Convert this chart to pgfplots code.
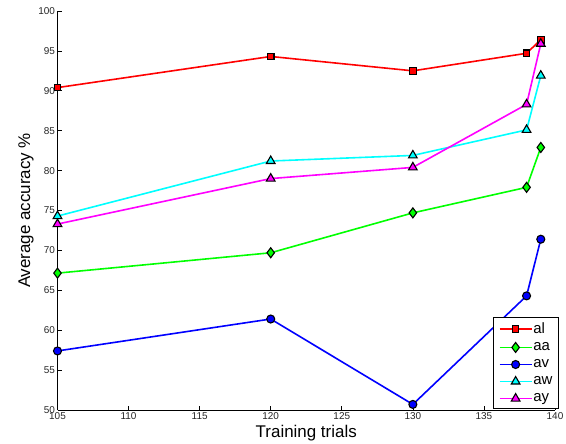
\documentclass[border=0pt]{standalone}
\usepackage{fontspec}
\setmainfont{Liberation Sans}
\usepackage{pgfplots}
\pgfplotsset{compat=1.18}
\definecolor{mred}{rgb}{1,0,0}
\definecolor{mgreen}{rgb}{0,1,0}
\definecolor{mblue}{rgb}{0,0,1}
\definecolor{mcyan}{rgb}{0,1,1}
\definecolor{mmag}{rgb}{1,0,1}
\begin{document}
\begin{tikzpicture}
\begin{axis}[
  scale only axis,
  width=497.5bp, height=399bp,
  xmin=105, xmax=140, ymin=50, ymax=100,
  xtick={105,110,...,140}, ytick={50,55,...,100},
  axis x line*=bottom, axis y line*=left,
  axis line style={black, line width=0.8pt, -},
  tick align=inside,
  major tick length=4bp,
  tick style={black, line width=0.6pt},
  /pgf/number format/assume math mode=true,
  tick label style={font=\fontsize{10}{11}\selectfont, text=black!85},
  xticklabel style={yshift=1bp},
  yticklabel style={xshift=1bp},
  xlabel={Training trials}, ylabel={Average accuracy \%},
  label style={font=\fontsize{17}{19}\selectfont},
  xlabel style={yshift=1bp},
  ylabel style={yshift=-2bp},
  legend style={at={(rel axis cs:1.008,0.003)}, anchor=south east, draw=black, line width=0.9pt,
    font=\fontsize{15}{16}\selectfont, row sep=5.5bp, inner ysep=4bp, inner xsep=5bp,
    cells={anchor=west}, nodes={inner sep=1bp}},
  legend cell align=left,
  legend image code/.code={%
    \draw[mark repeat=2,mark phase=2] plot coordinates {(0bp,0bp) (16bp,0bp) (32bp,0bp)};},
  every axis plot/.append style={line width=1.6bp},
]
\addplot[mred, mark=square*, mark size=3.3bp, mark options={fill=mred, draw=black, line width=1.1pt}]
  coordinates {(105,90.4) (120,94.3) (130,92.5) (138,94.7) (139,96.4)};
\addlegendentry{al}
\addplot[mgreen, mark=diamond*, mark size=5bp, mark options={fill=mgreen, draw=black, line width=1.1pt}]
  coordinates {(105,67.15) (120,69.7) (130,74.7) (138,77.9) (139,82.9)};
\addlegendentry{aa}
\addplot[mblue, mark=*, mark size=4bp, mark options={fill=mblue, draw=black, line width=1.1pt}]
  coordinates {(105,57.4) (120,61.4) (130,50.7) (138,64.3) (139,71.4)};
\addlegendentry{av}
\addplot[mcyan, mark=triangle*, mark size=5bp, mark options={fill=mcyan, draw=black, line width=1.1pt}]
  coordinates {(105,74.3) (120,81.2) (130,81.9) (138,85.1) (139,91.9)};
\addlegendentry{aw}
\addplot[mmag, mark=triangle*, mark size=5bp, mark options={fill=mmag, draw=black, line width=1.1pt}]
  coordinates {(105,73.3) (120,79.0) (130,80.4) (138,88.3) (139,95.9)};
\addlegendentry{ay}
\end{axis}
\pgfresetboundingbox
\path ([shift={(-57.5bp,-34bp)}]current axis.south west) rectangle ([shift={(11bp,11bp)}]current axis.north east);
\end{tikzpicture}
\end{document}
